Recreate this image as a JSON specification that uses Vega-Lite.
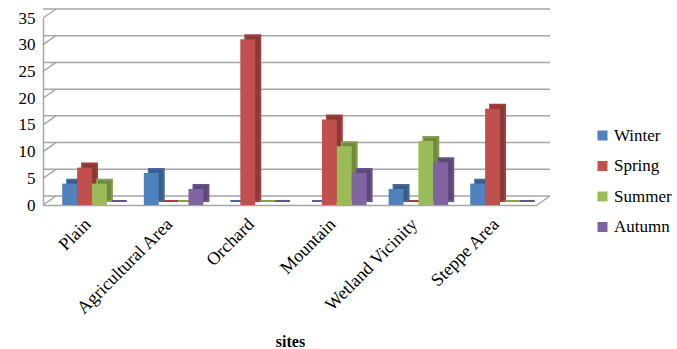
{
  "$schema": "https://vega.github.io/schema/vega-lite/v6.json",
  "width": 494,
  "height": 187,
  "autosize": "none",
  "padding": {"left": 43, "top": 18, "right": 140, "bottom": 144},
  "background": "white",
  "config": {
    "view": {"stroke": null},
    "font": "Liberation Serif",
    "axisY": {
      "title": null,
      "tickCount": 8,
      "grid": false,
      "ticks": false,
      "labelOverlap": false,
      "domainColor": "#a6a6a6",
      "domainWidth": 1.5,
      "labelFont": "Liberation Serif",
      "labelFontSize": 17,
      "labelColor": "#000000",
      "labelPadding": 8
    }
  },
  "datasets": {
    "counts": [
      {"site": "Plain", "season": "Winter", "count": 4},
      {"site": "Plain", "season": "Spring", "count": 7},
      {"site": "Plain", "season": "Summer", "count": 4},
      {"site": "Plain", "season": "Autumn", "count": 0},
      {"site": "Agricultural Area", "season": "Winter", "count": 6},
      {"site": "Agricultural Area", "season": "Spring", "count": 0},
      {"site": "Agricultural Area", "season": "Summer", "count": 0},
      {"site": "Agricultural Area", "season": "Autumn", "count": 3},
      {"site": "Orchard", "season": "Winter", "count": 0},
      {"site": "Orchard", "season": "Spring", "count": 31},
      {"site": "Orchard", "season": "Summer", "count": 0},
      {"site": "Orchard", "season": "Autumn", "count": 0},
      {"site": "Mountain", "season": "Winter", "count": 0},
      {"site": "Mountain", "season": "Spring", "count": 16},
      {"site": "Mountain", "season": "Summer", "count": 11},
      {"site": "Mountain", "season": "Autumn", "count": 6},
      {"site": "Wetland Vicinity", "season": "Winter", "count": 3},
      {"site": "Wetland Vicinity", "season": "Spring", "count": 0},
      {"site": "Wetland Vicinity", "season": "Summer", "count": 12},
      {"site": "Wetland Vicinity", "season": "Autumn", "count": 8},
      {"site": "Steppe Area", "season": "Winter", "count": 4},
      {"site": "Steppe Area", "season": "Spring", "count": 18},
      {"site": "Steppe Area", "season": "Summer", "count": 0},
      {"site": "Steppe Area", "season": "Autumn", "count": 0}
    ],
    "ticks": [
      {"v": 0}, {"v": 5}, {"v": 10}, {"v": 15},
      {"v": 20}, {"v": 25}, {"v": 30}, {"v": 35}
    ]
  },
  "resolve": {"scale": {"color": "independent", "x": "independent", "xOffset": "independent"}},
  "layer": [
    {
      "data": {"name": "ticks"},
      "mark": {"type": "rule", "stroke": "#a6a6a6", "strokeWidth": 1.5, "xOffset": 13, "yOffset": -9},
      "encoding": {
        "y": {"field": "v", "type": "quantitative", "scale": {"domain": [0, 35], "nice": false}}
      }
    },
    {
      "data": {"name": "ticks"},
      "mark": {"type": "rule", "stroke": "#a6a6a6", "strokeWidth": 1.5},
      "encoding": {
        "x": {"value": 0},
        "x2": {"value": 13},
        "y": {"field": "v", "type": "quantitative"},
        "y2": {"value": {"expr": "scale('y', datum.v) - 9"}}
      }
    },
    {
      "data": {"values": [{"v": 0}]},
      "mark": {"type": "rule", "stroke": "#a6a6a6", "strokeWidth": 1.5},
      "encoding": {
        "x": {"value": {"expr": "width"}},
        "x2": {"value": {"expr": "width + 13"}},
        "y": {"field": "v", "type": "quantitative"},
        "y2": {"value": {"expr": "scale('y', datum.v) - 9"}}
      }
    },
    {
      "data": {"name": "counts"},
      "mark": {"type": "bar", "yOffset": -4, "strokeWidth": 2},
      "encoding": {
        "x": {
          "field": "site", "type": "nominal",
          "sort": ["Plain", "Agricultural Area", "Orchard", "Mountain", "Wetland Vicinity", "Steppe Area"],
          "scale": {"paddingInner": 0.27, "paddingOuter": 0.162, "align": 0.917},
          "axis": null
        },
        "xOffset": {
          "field": "season", "type": "nominal",
          "sort": ["Winter", "Spring", "Summer", "Autumn"],
          "scale": {"paddingInner": 0, "paddingOuter": 0}
        },
        "y": {"field": "count", "type": "quantitative"},
        "color": {
          "field": "season", "type": "nominal",
          "scale": {"domain": ["Winter", "Spring", "Summer", "Autumn"], "range": ["#385d8a", "#8c3836", "#71893f", "#5c4776"]},
          "legend": null
        },
        "stroke": {
          "field": "season", "type": "nominal",
          "scale": {"domain": ["Winter", "Spring", "Summer", "Autumn"], "range": ["#41699b", "#a2403e", "#83a04a", "#6a5288"]},
          "legend": null
        }
      }
    },
    {
      "data": {"name": "counts"},
      "mark": {"type": "bar"},
      "encoding": {
        "x": {
          "field": "site", "type": "nominal",
          "sort": ["Plain", "Agricultural Area", "Orchard", "Mountain", "Wetland Vicinity", "Steppe Area"],
          "scale": {"paddingInner": 0.27, "paddingOuter": 0.162, "align": 0.727},
          "axis": {
            "title": "sites",
            "titleFont": "Liberation Serif",
            "titleFontSize": 16,
            "titleFontWeight": "bold",
            "titleColor": "#000000",
            "titlePadding": 16,
            "labelAngle": -45,
            "labelFont": "Liberation Serif",
            "labelFontSize": 18,
            "labelColor": "#000000",
            "labelPadding": 10,
            "labelOffset": -10,
            "ticks": false,
            "domainColor": "#a6a6a6",
            "domainWidth": 1.5
          }
        },
        "xOffset": {
          "field": "season", "type": "nominal",
          "sort": ["Winter", "Spring", "Summer", "Autumn"],
          "scale": {"paddingInner": 0, "paddingOuter": 0}
        },
        "y": {"field": "count", "type": "quantitative"},
        "color": {
          "field": "season", "type": "nominal",
          "scale": {"domain": ["Winter", "Spring", "Summer", "Autumn"], "range": ["#4f81bd", "#c0504d", "#9bbb59", "#8064a2"]},
          "legend": {
            "title": null,
            "orient": "none",
            "legendX": 551,
            "legendY": 109,
            "symbolType": "square",
            "symbolSize": 100,
            "symbolStrokeWidth": 0,
            "labelFont": "Liberation Serif",
            "labelFontSize": 17,
            "labelColor": "#000000",
            "labelOffset": 3,
            "rowPadding": 12.5
          }
        }
      }
    }
  ]
}
